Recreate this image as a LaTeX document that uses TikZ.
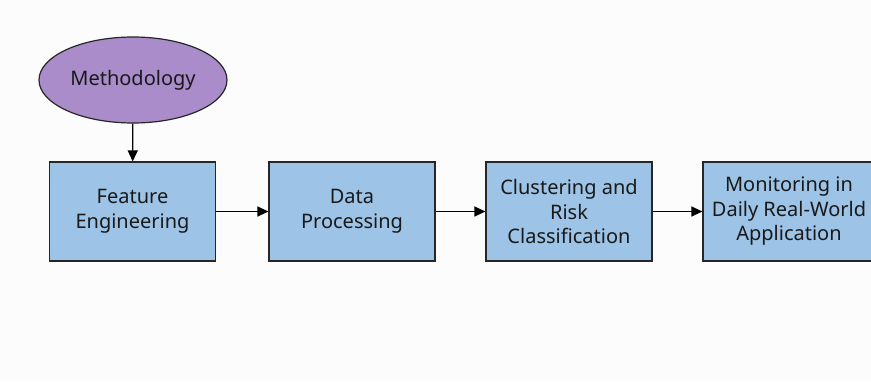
\documentclass[tikz,border=0pt]{standalone}
\usepackage{fontspec}
\setmainfont{Noto Sans}
\usetikzlibrary{shapes.geometric,arrows.meta}
\definecolor{boxblue}{HTML}{9DC3E6}
\definecolor{ovalpurple}{HTML}{AA8CCB}
\definecolor{bg}{HTML}{FCFCFD}
\begin{document}
\begin{tikzpicture}[x=1pt,y=-1pt,
  stepbox/.style={draw=black!85,line width=1.2pt,fill=boxblue,minimum width=166pt,minimum height=99pt,
    align=center,font=\fontsize{20}{24.5}\selectfont,inner sep=0pt,text=black!90},
  oval/.style={ellipse,draw=black!85,line width=1.2pt,fill=ovalpurple,minimum width=188pt,minimum height=86pt,
    inner sep=0pt,font=\fontsize{20}{24.5}\selectfont,text=black!90},
  flow/.style={-{Triangle[length=11pt,width=10pt]},line width=1.3pt,draw=black}]
\fill[bg] (0,0) rectangle (871,381);
\useasboundingbox (0,0) rectangle (871,381);
\node[oval] (meth) at (133,80) {Methodology};
\node[stepbox] (fe) at (132.5,211.5) {Feature\\Engineering};
\node[stepbox] (dp) at (352,211.5) {Data\\Processing};
\node[stepbox] (cr) at (569,211.5) {Clustering and\\Risk\\Classification};
\node[stepbox,minimum width=172pt] (mo) at (789,211.5) {Monitoring in\\Daily Real-World\\Application};
\draw[flow] (meth) -- (fe);
\draw[flow] (fe) -- (dp);
\draw[flow] (dp) -- (cr);
\draw[flow] (cr) -- (mo);
\end{tikzpicture}
\end{document}
